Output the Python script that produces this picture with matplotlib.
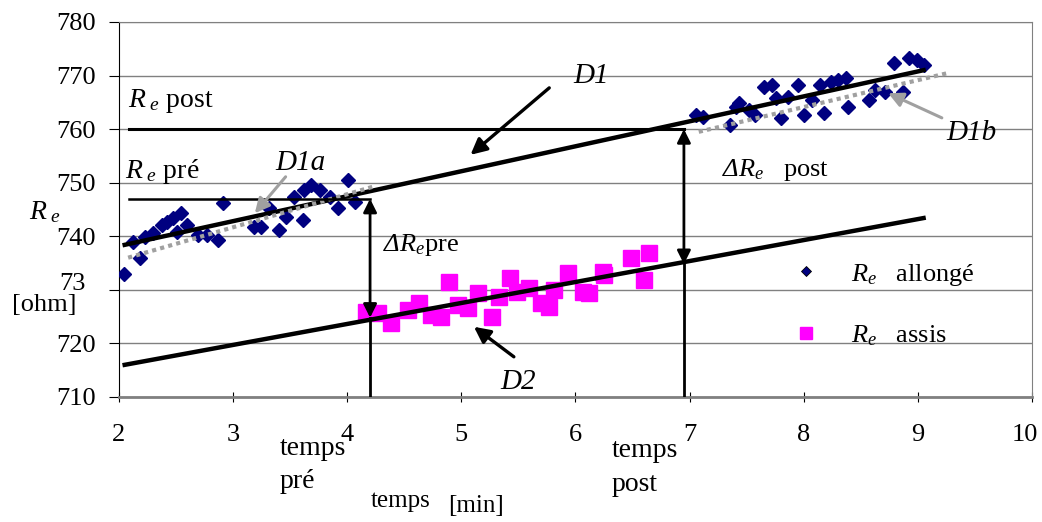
import matplotlib
matplotlib.use("Agg")
from matplotlib import pyplot as plt
from matplotlib.lines import Line2D
from matplotlib.transforms import ScaledTranslation

plt.rcParams['font.family'] = ['Liberation Serif', 'DejaVu Serif']
plt.rcParams['mathtext.fontset'] = 'custom'
plt.rcParams['mathtext.rm'] = 'Liberation Serif'
plt.rcParams['mathtext.it'] = 'Liberation Serif:italic'

# Re allongé (lying) measurements
allonge_t = [2.04, 2.12, 2.18, 2.23, 2.30, 2.38, 2.42, 2.47, 2.54, 2.60, 2.51, 2.69,
             2.77, 2.87, 2.91, 3.18, 3.24, 3.31, 3.40, 3.46, 3.53, 3.61, 3.62, 3.68,
             3.76, 3.85, 3.92, 4.01, 4.07,
             7.06, 7.12, 7.35, 7.41, 7.43, 7.52, 7.57, 7.65, 7.72, 7.76, 7.80, 7.86,
             7.95, 8.00, 8.07, 8.14, 8.18, 8.24, 8.30, 8.37, 8.39, 8.57, 8.62, 8.71,
             8.79, 8.87, 8.92, 8.99, 9.05]
allonge_re = [733.0, 738.9, 735.9, 739.9, 740.6, 742.1, 742.7, 743.4, 744.3, 742.1, 740.8, 740.2,
              740.2, 739.3, 746.2, 741.7, 741.7, 745.3, 741.2, 743.6, 747.3, 743.0, 748.6, 749.6,
              748.6, 747.3, 745.3, 750.5, 746.4,
              762.6, 762.3, 760.8, 764.1, 764.9, 763.6, 762.6, 767.9, 768.2, 765.8, 762.1, 766.0,
              768.2, 762.6, 765.4, 768.2, 763.0, 768.8, 769.2, 769.5, 764.1, 765.4, 767.3, 766.9,
              772.3, 766.9, 773.3, 772.9, 772.0]

# Re assis (sitting) measurements
assis_t = [4.16, 4.27, 4.38, 4.53, 4.63, 4.73, 4.82, 4.89, 4.97, 5.06, 5.15, 5.27, 5.33,
           5.43, 5.49, 5.59, 5.70, 5.77, 5.81, 5.93, 6.07, 6.12, 6.24, 6.25, 6.49, 6.60, 6.64]
assis_re = [725.9, 725.7, 723.8, 726.2, 727.5, 725.3, 724.9, 731.5, 727.2, 726.6, 729.4, 724.9, 728.7,
            732.2, 729.6, 730.3, 727.5, 726.8, 730.0, 733.1, 729.6, 729.4, 733.3, 732.8, 736.0, 731.8, 736.9]

# regression lines
d1_t, d1_re = [2.05, 9.05], [738.4, 771.0]
d2_t, d2_re = [2.05, 9.05], [716.0, 743.4]
d1a_t, d1a_re = [2.08, 4.25], [736.0, 749.4]
d1b_t, d1b_re = [7.08, 9.27], [759.5, 770.5]

# reference levels and times
re_pre, re_post = 747.0, 760.0
t_pre, t_post = 4.20, 6.95
d2_at_pre, d2_at_post = 724.8, 734.8

yticks = [710, 720, 730, 740, 750, 760, 770, 780]
ytick_labels = ['710', '720', '73', '740', '750', '760', '770', '780']
xticks = [2, 3, 4, 5, 6, 7, 8, 9, 10]

fig = plt.figure(figsize=(10.42, 5.22), dpi=100)
ax = fig.add_axes([0.1142, 0.2395, 0.8762, 0.7184])

ax.set_xlim(2, 10)
ax.set_ylim(710, 780)
ax.set_yticks(yticks)
ax.set_yticklabels(ytick_labels)
ax.set_xticks(xticks)
ax.tick_params(axis='both', labelsize=19)
ax.tick_params(axis='y', direction='out', length=7, pad=10)
ax.tick_params(axis='x', direction='inout', length=7, pad=16)
ax.yaxis.grid(True, color='#808080', lw=1)
ax.set_axisbelow(True)
for s in ['top', 'right']:
    ax.spines[s].set_color('#808080')
ax.spines['bottom'].set_color('#808080')
ax.spines['bottom'].set_linewidth(2)
ax.spines['left'].set_color('black')

# nudge the last x label inside the figure and the clipped "73" label like the original
last = ax.get_xticklabels()[-1]
last.set_transform(last.get_transform() + ScaledTranslation(-0.07, 0, fig.dpi_scale_trans))
l73 = ax.get_yticklabels()[2]
l73.set_transform(l73.get_transform() + ScaledTranslation(-0.1, 0.08, fig.dpi_scale_trans))

ax.plot(allonge_t, allonge_re, 'D', color='#000080', ms=7.5, ls='none', zorder=3)
ax.plot(assis_t, assis_re, 's', color='#FF00FF', ms=11.5, ls='none', zorder=3)

ax.plot(d1_t, d1_re, color='black', lw=3.2, zorder=4)
ax.plot(d2_t, d2_re, color='black', lw=3.2, zorder=4)
ax.plot(d1a_t, d1a_re, color='#A0A0A0', lw=3, ls=(0, (1, 1)), zorder=4)
ax.plot(d1b_t, d1b_re, color='#A0A0A0', lw=3, ls=(0, (1, 1)), zorder=4)

# reference level lines
ax.plot([2.09, t_pre], [re_pre, re_pre], color='black', lw=1.8, zorder=4)
ax.plot([2.09, t_post], [re_post, re_post], color='black', lw=2.2, zorder=4)

# vertical delta arrows
ax.plot([t_pre, t_pre], [710, d2_at_pre], color='black', lw=2, zorder=4)
ax.annotate('', xy=(t_pre, re_pre), xytext=(t_pre, d2_at_pre),
            arrowprops=dict(arrowstyle='<|-|>', color='black', lw=2, mutation_scale=20,
                            shrinkA=0, shrinkB=0), zorder=5)
ax.plot([t_post, t_post], [710, d2_at_post], color='black', lw=2, zorder=4)
ax.annotate('', xy=(t_post, re_post), xytext=(t_post, d2_at_post),
            arrowprops=dict(arrowstyle='<|-|>', color='black', lw=2, mutation_scale=20,
                            shrinkA=0, shrinkB=0), zorder=5)

# pointer arrows
black_arrow = dict(arrowstyle='-|>', color='black', lw=2.4, mutation_scale=24, shrinkA=0, shrinkB=0)
gray_arrow = dict(arrowstyle='-|>', color='#A0A0A0', lw=2.2, mutation_scale=22, shrinkA=0, shrinkB=0)
ax.annotate('', xy=(5.08, 755.2), xytext=(5.77, 767.7), arrowprops=black_arrow, zorder=5)
ax.annotate('', xy=(5.11, 723.1), xytext=(5.46, 717.5), arrowprops=black_arrow, zorder=5)
ax.annotate('', xy=(3.19, 744.3), xytext=(3.46, 751.1), arrowprops=gray_arrow, zorder=5)
ax.annotate('', xy=(8.74, 766.7), xytext=(9.21, 762.1), arrowprops=gray_arrow, zorder=5)

lab = dict(fontsize=21, va='center', ha='center', style='italic')
ax.text(6.14, 769.9, 'D1', **lab)
ax.text(5.50, 712.8, 'D2', **lab)
ax.text(3.59, 753.7, 'D1a', **lab)
ax.text(9.47, 759.3, 'D1b', **lab)

ax.text(2.08, 765.3, r'$R_{\ e}$ post', fontsize=20, va='center', ha='left')
ax.text(2.05, 752.0, r'$R_{\ e}$ pré', fontsize=20, va='center', ha='left')
# italic delta: plain text part is italic, the words stay upright through \mathrm
ax.text(7.28, 752.4, r'Δ$R_e$   $\mathrm{post}$', fontsize=19, va='center', ha='left', style='italic')
ax.text(4.31, 738.4, r'Δ$R_e\mathrm{pre}$', fontsize=19, va='center', ha='left', style='italic')

handles = [Line2D([], [], marker='D', color='#000080', mec='black', mew=0.6, ms=5, ls='none'),
           Line2D([], [], marker='s', color='#FF00FF', ms=9, ls='none')]
ax.legend(handles, [r'$R_e$   allongé', r'$R_e$   assis'], loc='upper left',
          bbox_to_anchor=(0.738, 0.361), frameon=False, fontsize=19, handlelength=1,
          handletextpad=1.2, labelspacing=1.35, borderpad=0, borderaxespad=0)

fig.text(0.043, 0.594, r'$R_{\ e}$', fontsize=20, ha='center', va='center')
fig.text(0.0115, 0.416, '[ohm]', fontsize=19, ha='left', va='center')
fig.text(0.2687, 0.165, 'temps\npré', fontsize=20, ha='left', va='top', linespacing=1.45)
fig.text(0.587, 0.161, 'temps\npost', fontsize=20, ha='left', va='top', linespacing=1.45)
fig.text(0.356, 0.040, 'temps', fontsize=18, ha='left', va='center')
fig.text(0.430, 0.030, '[min]', fontsize=18, ha='left', va='center')

fig.savefig('out.png', dpi=100)
